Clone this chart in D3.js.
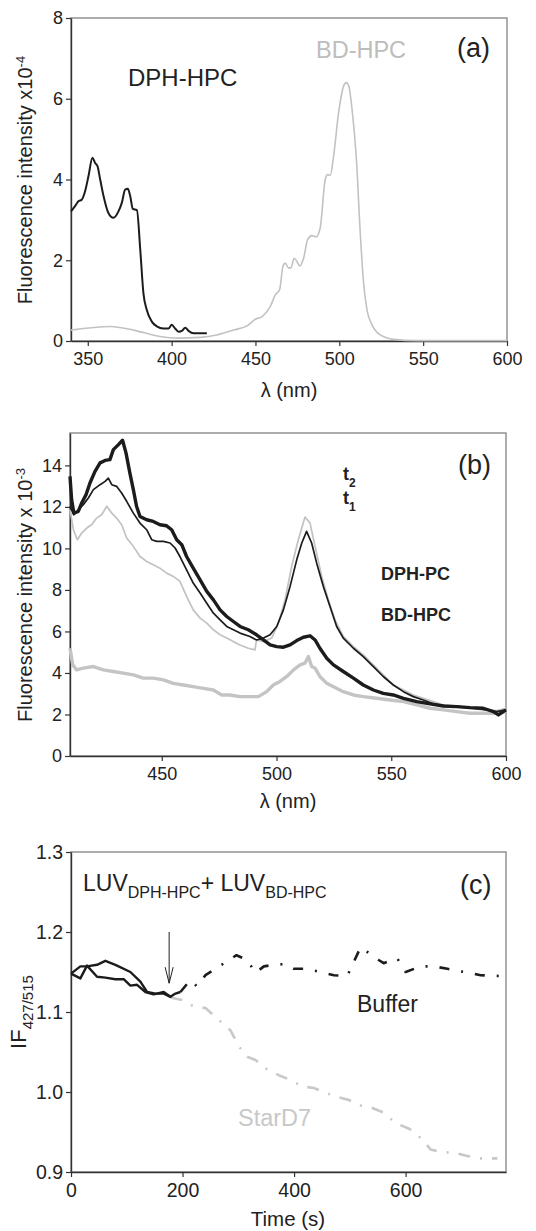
<!DOCTYPE html>
<html>
<head>
<meta charset="utf-8">
<script src="https://cdn.jsdelivr.net/npm/d3@7"></script>
<style>
  html, body { margin: 0; padding: 0; background: #fff; }
  svg { display: block; font-family: "Liberation Sans", Arial, sans-serif; }
</style>
</head>
<body>
<div id="chart"></div>
<script>
// ---- panel (a): excitation / emission spectra, intensity x10^-4 ----
const aDphHpc = [
  [340, 3.21], [342.4, 3.34], [344.4, 3.46], [346.4, 3.50], [348.4, 3.71], [350.4, 4.08],
  [352.8, 4.54], [354.4, 4.41], [355.8, 4.33], [357.4, 4.00], [359.4, 3.59], [362.3, 3.17],
  [365.3, 3.05], [368.3, 3.21], [370.3, 3.42], [372.3, 3.75], [373.9, 3.77], [375.3, 3.59],
  [376.9, 3.27], [379.3, 3.24], [381.3, 2.26], [383.2, 1.18], [385.2, 0.77], [388.2, 0.48],
  [391.2, 0.36], [395.1, 0.31], [398.1, 0.31], [400.1, 0.40], [402.1, 0.31], [404.1, 0.23],
  [406.1, 0.25], [408.1, 0.33], [410.1, 0.25], [413.1, 0.19], [417.1, 0.19], [421, 0.19]
];
const aBdHpc = [
  [340, 0.27], [363.4, 0.36], [377.3, 0.27], [393.2, 0.11], [403.1, 0.07], [417.1, 0.09],
  [427, 0.15], [437, 0.27], [445.9, 0.40], [449.9, 0.54], [453.8, 0.60], [458.8, 0.85],
  [461.8, 1.14], [464.4, 1.27], [466.4, 1.85], [467.8, 1.93], [469.7, 1.81], [471.1, 1.81],
  [473.1, 2.05], [474.7, 1.97], [476.3, 1.86], [478.7, 2.05], [481.1, 2.51], [483.6, 2.61],
  [486.2, 2.58], [488.6, 2.80], [491.6, 4.00], [493, 4.12], [494.6, 4.10], [496.6, 4.58],
  [499.6, 5.66], [502.6, 6.32], [504.2, 6.40], [505.6, 6.32], [507.6, 5.74], [510.2, 4.50],
  [512.5, 2.67], [514.5, 1.43], [516.5, 0.77], [519.5, 0.40], [524.5, 0.15], [532.4, 0.04],
  [546.3, 0.01], [600, 0.01]
];

// ---- panel (b): FRET spectra, intensity x10^-3 ----
const bBlackThick = [
  [410, 13.47], [410.7, 12.35], [411.7, 11.70], [413.6, 11.78], [415.1, 12.19], [417, 12.59],
  [418.7, 13.15], [420.9, 13.71], [423.1, 14.12], [425.3, 14.24], [427.4, 14.28], [428.9, 14.76],
  [431.1, 15.0], [432.9, 15.21], [434.4, 14.60], [436.1, 13.63], [437.6, 12.83], [439, 12.03],
  [440.5, 11.54], [443.4, 11.38], [446.3, 11.30], [449.2, 11.14], [452.1, 11.09], [454.3, 10.90],
  [456.5, 10.42], [458.7, 10.18], [460.8, 9.61], [463.7, 9.05], [466.7, 8.49], [469.6, 7.93],
  [472.5, 7.52], [475.4, 7.04], [478.3, 6.72], [481.2, 6.48], [484.1, 6.24], [487.7, 6.08],
  [491.3, 5.84], [494.3, 5.59], [497.2, 5.35], [500.1, 5.27], [503, 5.24], [505.9, 5.35],
  [508.8, 5.56], [511.7, 5.72], [514.6, 5.79], [516.8, 5.59], [518.9, 5.19], [521.9, 4.71],
  [524.8, 4.39], [529.1, 4.07], [533.5, 3.75], [537.8, 3.42], [542.2, 3.18], [546.5, 3.02],
  [550.9, 2.94], [555.3, 2.78], [561.1, 2.62], [566.9, 2.51], [572.7, 2.41], [578.5, 2.38],
  [584.3, 2.33], [590.1, 2.30], [594.5, 2.14], [596.7, 1.98], [600, 2.22]
];
const bBlackThin = [
  [410, 12.03], [411.7, 11.62], [413.6, 11.86], [415.8, 12.11], [418, 12.43], [420.2, 12.83],
  [423.1, 13.07], [425.3, 13.23], [426.7, 13.39], [428.2, 13.07], [430.3, 12.99], [432.5, 12.67],
  [434.7, 12.27], [437.6, 11.70], [440.5, 11.22], [443.4, 10.90], [445.6, 10.42], [447.8, 10.34],
  [450.7, 10.34], [453.6, 10.26], [455.8, 10.02], [457.9, 9.61], [460.8, 8.97], [463.7, 8.33],
  [466.7, 7.85], [469.6, 7.36], [472.5, 6.88], [475.4, 6.56], [478.3, 6.24], [481.2, 6.08],
  [484.1, 5.92], [488.4, 5.76], [491.3, 5.59], [494.3, 5.68], [497.2, 5.84], [500.1, 6.24],
  [503, 7.04], [505.9, 8.17], [508.8, 9.45], [511, 10.26], [513.1, 10.82], [515.3, 10.26],
  [517.5, 9.29], [520.4, 8.17], [523.3, 7.20], [526.2, 6.24], [529.1, 5.68], [533.5, 5.19],
  [537.8, 4.79], [542.2, 4.31], [546.5, 3.83], [550.9, 3.42], [555.3, 3.10], [559.6, 2.86],
  [564, 2.70], [568.3, 2.51], [574.2, 2.41], [580, 2.38], [585.8, 2.30], [591.6, 2.22],
  [595.9, 2.14], [600, 2.22]
];
const bGrayThin = [
  [410, 11.86], [411.5, 10.90], [413.2, 10.42], [415.1, 10.74], [417.3, 10.98], [419.4, 11.14],
  [421.6, 11.46], [423.8, 11.62], [426, 12.03], [428.2, 11.70], [430.3, 11.46], [432.5, 11.14],
  [434.7, 10.50], [437.6, 10.10], [440.5, 9.61], [443.4, 9.37], [446.3, 9.21], [449.2, 9.05],
  [452.1, 8.81], [455, 8.65], [457.9, 8.41], [460.8, 7.69], [463.7, 7.04], [466.7, 6.64],
  [469.6, 6.40], [472.5, 6.08], [475.4, 5.84], [478.3, 5.68], [481.2, 5.51], [484.1, 5.35],
  [487.7, 5.19], [490.6, 5.11], [491.3, 5.59], [494.3, 5.51], [497.9, 5.68], [500.8, 6.40],
  [503.7, 7.52], [506.6, 9.13], [509.5, 10.42], [512.4, 11.51], [514.6, 11.22], [516.8, 10.10],
  [519.7, 8.65], [522.6, 7.52], [525.5, 6.56], [529.1, 5.76], [533.5, 5.27], [537.8, 4.87],
  [542.2, 4.39], [546.5, 3.91], [550.9, 3.42], [555.3, 3.18], [559.6, 2.94], [564, 2.78],
  [568.3, 2.62], [572.7, 2.46], [578.5, 2.38], [584.3, 2.30], [590.1, 2.22], [595.9, 2.19],
  [600, 2.30]
];
const bGrayThick = [
  [410, 5.19], [411.2, 4.39], [412.9, 4.15], [415.8, 4.23], [420.2, 4.31], [424.5, 4.15],
  [428.9, 4.07], [433.2, 3.99], [437.6, 3.91], [441.9, 3.75], [446.3, 3.75], [450.7, 3.67],
  [455, 3.50], [459.4, 3.42], [463.7, 3.34], [468.1, 3.26], [472.5, 3.18], [476.1, 2.94],
  [479.7, 2.94], [484.1, 2.86], [488.4, 2.86], [492.1, 2.86], [495.7, 3.10], [498.6, 3.42],
  [501.5, 3.59], [504.5, 3.83], [507.4, 4.15], [510.3, 4.39], [512.4, 4.47], [513.9, 4.79],
  [515.3, 4.31], [516.8, 4.23], [518.9, 3.83], [521.9, 3.50], [524.8, 3.34], [529.1, 3.10],
  [533.5, 2.94], [537.8, 2.86], [543.6, 2.78], [549.4, 2.70], [555.3, 2.62], [561.1, 2.46],
  [566.9, 2.30], [572.7, 2.22], [578.5, 2.14], [584.3, 2.06], [590.1, 2.06], [595.9, 2.06],
  [600, 2.14]
];

// ---- panel (c): IF427/515 vs time (s) ----
const cBaselineA = [
  [0, 1.148], [16.8, 1.157], [28.7, 1.157], [46.7, 1.159], [61.6, 1.164], [79.6, 1.159],
  [106.5, 1.150], [124.4, 1.138], [136.4, 1.125], [151.4, 1.123], [166.3, 1.123], [178.3, 1.119]
];
const cBaselineB = [
  [0, 1.148], [16.8, 1.142], [28.7, 1.158], [46.7, 1.144], [61.6, 1.143], [79.6, 1.141],
  [94.5, 1.141], [106.5, 1.133], [118.5, 1.134], [133.4, 1.125], [148.2, 1.122], [166.3, 1.125],
  [178.3, 1.119], [187.3, 1.123], [196.2, 1.125]
];
const cBuffer = [
  [196.2, 1.125], [214, 1.140], [226, 1.132], [241, 1.146], [296.7, 1.171], [315.9, 1.165],
  [330.8, 1.149], [345.8, 1.157], [363.7, 1.159], [384.7, 1.160], [399.6, 1.154], [420.6, 1.154],
  [447.5, 1.150], [471.4, 1.146], [495.3, 1.145], [519.3, 1.181], [551.7, 1.165], [560.6, 1.161],
  [585, 1.167], [600, 1.150], [626.9, 1.157], [650.8, 1.157], [674.8, 1.154], [704.7, 1.150],
  [734.6, 1.146], [767.6, 1.145]
];
const cStarD7 = [
  [178.3, 1.118], [199.2, 1.115], [220.2, 1.107], [241.1, 1.105], [286, 1.077], [301, 1.057],
  [316, 1.044], [330.8, 1.040], [351.8, 1.028], [372.7, 1.021], [393.7, 1.015], [414.6, 1.007],
  [435.5, 1.005], [456.5, 0.999], [477.4, 0.994], [498.4, 0.990], [519.3, 0.983], [540.2, 0.980],
  [561.2, 0.974], [582.1, 0.961], [603.1, 0.955], [615, 0.951], [633, 0.938], [645, 0.928],
  [663, 0.925], [687, 0.924], [710.7, 0.920], [734.6, 0.917], [764.6, 0.917]
];
const cArrow = [[176, 1.200], [176, 1.136]];

// tick values
const aXTicks = [350, 400, 450, 500, 550, 600];
const aYTicks = [0, 2, 4, 6, 8];
const bXTicks = [450, 500, 550, 600];
const bYTicks = [0, 2, 4, 6, 8, 10, 12, 14];
const cXTicks = [0, 200, 400, 600];
const cYTicks = [0.9, 1.0, 1.1, 1.2, 1.3];

const W = 536, H = 1231;
const svg = d3.select("#chart").append("svg")
  .attr("width", W).attr("height", H);

// draws frame + axes, returns the scales
function panel(box, xDom, yDom, xTicks, yTicks, yFmt, fs) {
  const x = d3.scaleLinear().domain(xDom).range([box.left, box.right]);
  const y = d3.scaleLinear().domain(yDom).range([box.bottom, box.top]);
  svg.append("rect")
    .attr("x", box.left).attr("y", box.top)
    .attr("width", box.right - box.left).attr("height", box.bottom - box.top)
    .attr("fill", "none").attr("stroke", "#8a8a8a").attr("stroke-width", 1.4);

  const gx = svg.append("g").attr("transform", `translate(0,${box.bottom})`)
    .call(d3.axisBottom(x).tickValues(xTicks).tickSize(5).tickSizeOuter(0).tickPadding(6)
      .tickFormat(d3.format("d")));
  const gy = svg.append("g").attr("transform", `translate(${box.left},0)`)
    .call(d3.axisLeft(y).tickValues(yTicks).tickSize(5).tickSizeOuter(0).tickPadding(3)
      .tickFormat(yFmt));
  [gx, gy].forEach(g => {
    g.select(".domain").attr("stroke", "#333").attr("stroke-width", 1.4);
    g.selectAll(".tick line").attr("stroke", "#333").attr("stroke-width", 1.2);
    g.selectAll(".tick text").attr("fill", "#222")
      .style("font-size", fs + "px").style("font-family", "Liberation Sans, Arial, sans-serif");
  });
  return { x, y };
}

function drawLine(s, data, color, width, dash, curve) {
  svg.append("path")
    .datum(data)
    .attr("fill", "none")
    .attr("stroke", color)
    .attr("stroke-width", width)
    .attr("stroke-linejoin", "round")
    .attr("stroke-dasharray", dash || null)
    .attr("d", d3.line().x(d => s.x(d[0])).y(d => s.y(d[1])).curve(curve || d3.curveLinear));
}

function label(x, y, parts, opts) {
  const t = svg.append("text").attr("x", x).attr("y", y)
    .attr("fill", opts.fill || "#222")
    .style("font-size", opts.size + "px")
    .style("font-weight", opts.weight || "normal")
    .attr("text-anchor", opts.anchor || "start");
  if (opts.rotate) t.attr("x", 0).attr("y", 0).attr("transform", `translate(${x},${y}) rotate(-90)`);
  parts.forEach(p => {
    const ts = t.append("tspan").text(p.t);
    if (p.sub) ts.style("font-size", p.sub.size + "px").attr("baseline-shift", p.sub.shift);
  });
  return t;
}

// ---------- (a) ----------
const A = panel({ left: 71, right: 507, top: 18, bottom: 341 }, [340, 600], [0, 8],
  aXTicks, aYTicks, d3.format("d"), 18);
drawLine(A, aBdHpc, "#c2c2c2", 1.6, null, d3.curveMonotoneX);
drawLine(A, aDphHpc, "#1c1c1c", 2, null, d3.curveMonotoneX);
label(128, 86, [{ t: "DPH-HPC" }], { size: 24 });
label(316, 58, [{ t: "BD-HPC" }], { size: 23.5, fill: "#bdbdbd" });
label(457, 57, [{ t: "(a)" }], { size: 27 });
label(289, 397, [{ t: "λ (nm)" }], { size: 20, anchor: "middle" });
label(32, 180, [{ t: "Fluorescence intensity x10" }, { t: "-4", sub: { size: 13, shift: "super" } }],
  { size: 20, anchor: "middle", rotate: true });

// ---------- (b) ----------
const B = panel({ left: 70, right: 506, top: 433, bottom: 756 }, [410, 600], [0, 15.56],
  bXTicks, bYTicks, d3.format("d"), 18);
drawLine(B, bGrayThick, "#c4c4c4", 3.4);
drawLine(B, bGrayThin, "#c2c2c2", 1.7);
drawLine(B, bBlackThin, "#1c1c1c", 1.7);
drawLine(B, bBlackThick, "#1c1c1c", 3.4);
label(458, 474, [{ t: "(b)" }], { size: 27 });
label(343, 480, [{ t: "t" }, { t: "2", sub: { size: 12, shift: "sub" } }], { size: 18, weight: "bold" });
label(343, 504, [{ t: "t" }, { t: "1", sub: { size: 12, shift: "sub" } }], { size: 18, weight: "bold" });
label(381, 580, [{ t: "DPH-PC" }], { size: 18, weight: "bold" });
label(381, 621, [{ t: "BD-HPC" }], { size: 18, weight: "bold" });
label(288, 808, [{ t: "λ (nm)" }], { size: 20, anchor: "middle" });
label(32, 595, [{ t: "Fluorescence intensity x 10" }, { t: "-3", sub: { size: 13, shift: "super" } }],
  { size: 20, anchor: "middle", rotate: true });

// ---------- (c) ----------
const C = panel({ left: 71, right: 506, top: 852, bottom: 1172 }, [0, 780], [0.9, 1.3],
  cXTicks, cYTicks, d3.format(".1f"), 19.5);
drawLine(C, cStarD7, "#c8c8c8", 2.6, "12,10,2,10");
drawLine(C, cBuffer, "#1c1c1c", 2.6, "10,12,2,12");
drawLine(C, cBaselineA, "#1c1c1c", 2.4);
drawLine(C, cBaselineB, "#1c1c1c", 2.4);
// addition arrow
drawLine(C, cArrow, "#222", 1);
{
  const ax = C.x(cArrow[1][0]), ay = C.y(cArrow[1][1]);
  svg.append("path")
    .attr("d", `M${ax - 4},${ay - 16}L${ax},${ay}L${ax + 4},${ay - 16}`)
    .attr("fill", "none").attr("stroke", "#222").attr("stroke-width", 1);
}
label(83, 891, [{ t: "LUV" }, { t: "DPH-HPC", sub: { size: 16, shift: "-7" } },
  { t: "+ LUV" }, { t: "BD-HPC", sub: { size: 16, shift: "-7" } }], { size: 23 });
label(460, 894, [{ t: "(c)" }], { size: 27 });
label(357, 1012, [{ t: "Buffer" }], { size: 23 });
label(238, 1126, [{ t: "StarD7" }], { size: 23.5, fill: "#c8c8c8" });
label(288, 1226, [{ t: "Time (s)" }], { size: 20.5, anchor: "middle" });
label(26, 1012, [{ t: "IF" }, { t: "427/515", sub: { size: 15, shift: "-7" } }],
  { size: 22, anchor: "middle", rotate: true });
</script>
</body>
</html>
